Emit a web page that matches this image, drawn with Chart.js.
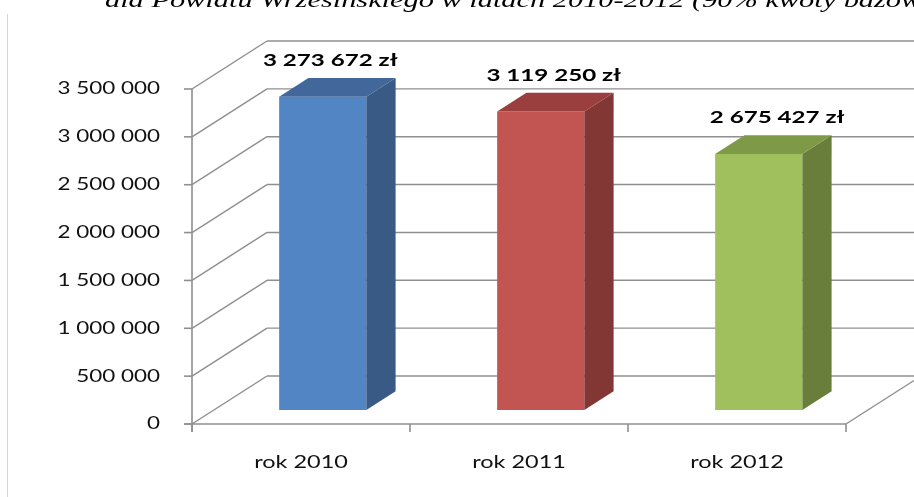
<!DOCTYPE html>
<html>
<head>
<meta charset="utf-8">
<script src="https://cdn.jsdelivr.net/npm/chart.js@4/dist/chart.umd.min.js"></script>
<style>
  html, body { margin: 0; padding: 0; background: #fff; }
  #wrap { width: 914px; height: 497px; position: relative; }
</style>
</head>
<body>
<div id="wrap"><canvas id="chart" width="914" height="497"></canvas></div>
<script>
const categories = ['rok 2010', 'rok 2011', 'rok 2012'];
const amounts = [3273672, 3119250, 2675427];
const yTicks = [0, 500000, 1000000, 1500000, 2000000, 2500000, 3000000, 3500000];
const titleText = 'dla Powiatu Wrzesińskiego w latach 2010-2012 (90% kwoty bazowej)';

// front / top / side shades for each column
const faceColors = [
    { front: '#5285C3', top: '#41679B', side: '#385A85' },
    { front: '#C25451', top: '#9A3F3D', side: '#823735' },
    { front: '#A0BF5D', top: '#7E9A47', side: '#6A7E3B' },
];

// receding direction of the 3d box, and where the columns sit in its depth
const DEPTH = { dx: 75, dy: -48 };
const BAR_FRONT = 0.29;
const BAR_BACK = 0.68;
const GRID = '#8f8f8f';

const spaced = n => String(n).replace(/\B(?=(\d{3})+(?!\d))/g, ' ');

function stretchText(ctx, text, x, y, font, sx, align, base) {
    ctx.save();
    ctx.translate(x, y);
    ctx.scale(sx, 1);
    ctx.font = font;
    ctx.textAlign = align;
    ctx.textBaseline = base;
    ctx.fillText(text, 0, 0);
    ctx.restore();
}

function line(ctx, x1, y1, x2, y2) {
    ctx.beginPath();
    ctx.moveTo(x1, y1);
    ctx.lineTo(x2, y2);
    ctx.stroke();
}

function poly(ctx, pts, fill) {
    ctx.beginPath();
    ctx.moveTo(pts[0][0], pts[0][1]);
    pts.slice(1).forEach(p => ctx.lineTo(p[0], p[1]));
    ctx.closePath();
    ctx.fillStyle = fill;
    ctx.fill();
}

const column3d = {
    id: 'column3d',
    afterDraw(chart) {
        const ctx = chart.ctx;
        const { left, right, top, bottom } = chart.chartArea;
        const yScale = chart.scales.y;
        const xScale = chart.scales.x;
        const W = chart.width;

        // page rule at the left and the clipped heading above the chart
        ctx.save();
        ctx.strokeStyle = '#d6d6d6';
        ctx.lineWidth = 1;
        line(ctx, 7.5, 14, 7.5, chart.height);
        ctx.fillStyle = '#000';
        stretchText(ctx, titleText, 105, 7, 'italic 22px "Liberation Serif"', 1.38, 'left', 'alphabetic');
        ctx.restore();

        // back wall gridlines and the left wall diagonals
        ctx.save();
        ctx.strokeStyle = GRID;
        ctx.lineWidth = 1.4;
        yTicks.forEach(v => {
            const y = yScale.getPixelForValue(v);
            line(ctx, left, y, left + DEPTH.dx, y + DEPTH.dy);
            line(ctx, left + DEPTH.dx, y + DEPTH.dy, W + 10, y + DEPTH.dy);
        });
        // floor edges
        line(ctx, right, bottom, right + DEPTH.dx, bottom + DEPTH.dy);
        ctx.lineWidth = 1.6;
        line(ctx, left, top, left, bottom + 8);
        line(ctx, left - 8, bottom, right, bottom);
        yTicks.forEach(v => {
            const y = yScale.getPixelForValue(v);
            line(ctx, left - 8, y, left, y);
        });
        for (let i = 0; i <= categories.length; i++) {
            const x = left + (right - left) * i / categories.length;
            line(ctx, x, bottom, x, bottom + 8);
        }
        ctx.restore();

        // columns
        const meta = chart.getDatasetMeta(0);
        meta.data.forEach((bar, i) => {
            const c = faceColors[i];
            const half = bar.width / 2;
            const fx = DEPTH.dx * BAR_FRONT, fy = DEPTH.dy * BAR_FRONT;
            const bx = DEPTH.dx * BAR_BACK, by = DEPTH.dy * BAR_BACK;
            const x0 = bar.x - half + fx, x1 = bar.x + half + fx;
            const yt = bar.y + fy, yb = bar.base + fy;
            const ddx = bx - fx, ddy = by - fy;
            poly(ctx, [[x0, yt], [x1, yt], [x1, yb], [x0, yb]], c.front);
            poly(ctx, [[x1, yt], [x1 + ddx, yt + ddy], [x1 + ddx, yb + ddy], [x1, yb]], c.side);
            poly(ctx, [[x0, yt], [x0 + ddx, yt + ddy], [x1 + ddx, yt + ddy], [x1, yt]], c.top);

            // value label above the column
            const mid = (left + right) / 2;
            const lx = bar.x + fx + 13 + (bar.x - mid) * 0.025;
            ctx.fillStyle = '#000';
            stretchText(ctx, spaced(amounts[i]) + ' zł', lx, yt - 36, 'bold 17px Lato', 1.42, 'center', 'middle');
        });

        // axis labels
        ctx.fillStyle = '#111';
        yTicks.forEach(v => {
            stretchText(ctx, spaced(v), left - 32, yScale.getPixelForValue(v), '17px Lato', 1.32, 'right', 'middle');
        });
        categories.forEach((label, i) => {
            stretchText(ctx, label, xScale.getPixelForValue(i), bottom + 39, '17px Lato', 1.38, 'center', 'middle');
        });
    },
};

new Chart(document.getElementById('chart'), {
    type: 'bar',
    data: {
        labels: categories,
        datasets: [{
            data: amounts,
            backgroundColor: 'rgba(0,0,0,0)',
            barPercentage: 0.4,
            categoryPercentage: 1.0,
        }],
    },
    options: {
        responsive: false,
        animation: false,
        events: [],
        layout: { padding: { left: 192, right: 68, top: 89, bottom: 73 } },
        plugins: {
            legend: { display: false },
            tooltip: { enabled: false },
        },
        scales: {
            x: { display: false },
            y: { display: false, min: 0, max: 3500000 },
        },
    },
    plugins: [column3d],
});
</script>
</body>
</html>
